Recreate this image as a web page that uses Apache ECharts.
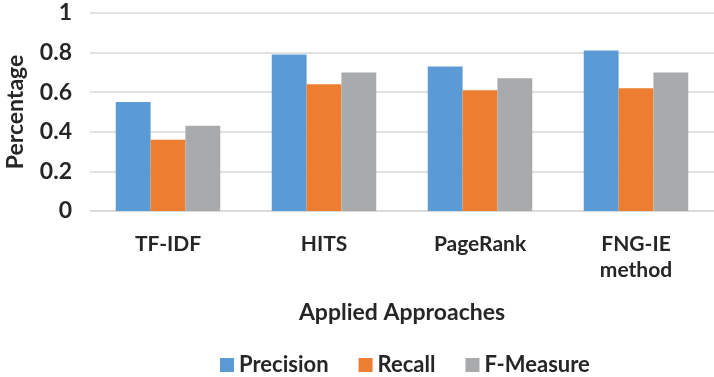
<!DOCTYPE html>
<html>
<head>
<meta charset="utf-8">
<script src="https://cdn.jsdelivr.net/npm/echarts@6/dist/echarts.min.js"></script>
<style>
  html, body { margin: 0; padding: 0; background: #fff; }
  #chart { width: 714px; height: 377px; }
</style>
</head>
<body>
<div id="chart"></div>
<script>
// data
const approaches = ['TF-IDF', 'HITS', 'PageRank', 'FNG-IE\nmethod']
const precision = [0.55, 0.79, 0.73, 0.81]
const recall = [0.36, 0.64, 0.61, 0.62]
const fMeasure = [0.43, 0.70, 0.67, 0.70]
const yTicks = [0, 0.2, 0.4, 0.6, 0.8, 1]

const font = 'Lato, "Open Sans", sans-serif'
const textColor = '#262626'

const chart = echarts.init(document.getElementById('chart'))

const option = {
  animation: false,
  textStyle: { fontFamily: font },
  grid: { left: 90, right: 0, top: 13, bottom: 166, outerBoundsMode: 'none', containLabel: false },
  legend: {
    bottom: -4,
    left: 215,
    itemWidth: 14,
    itemHeight: 14,
    itemGap: 30,
    icon: 'rect',
    textStyle: { fontFamily: font, fontWeight: 'bold', fontSize: 22, color: textColor },
    data: ['Precision', 'Recall', 'F-Measure']
  },
  xAxis: {
    type: 'category',
    data: approaches,
    name: 'Applied Approaches',
    nameLocation: 'middle',
    nameGap: 90,
    nameTextStyle: { fontFamily: font, fontWeight: 'bold', fontSize: 23, color: textColor },
    axisLine: { lineStyle: { color: '#d9d9d9', width: 1.5 } },
    axisTick: { show: false },
    axisLabel: {
      margin: 20,
      fontFamily: font, fontWeight: 'bold', fontSize: 21, color: textColor,
      lineHeight: 26
    }
  },
  yAxis: {
    type: 'value',
    min: yTicks[0],
    max: yTicks[yTicks.length - 1],
    interval: 0.2,
    name: 'Percentage',
    nameLocation: 'middle',
    nameGap: 63,
    nameTextStyle: { fontFamily: font, fontWeight: 'bold', fontSize: 23, color: textColor },
    axisLine: { show: false },
    axisTick: { show: false },
    axisLabel: {
      margin: 18,
      fontFamily: font, fontWeight: 'bold', fontSize: 23, color: textColor,
      formatter: v => String(Math.round(v * 10) / 10)
    },
    splitLine: { lineStyle: { color: '#d9d9d9', width: 1.5 } }
  },
  series: [
    { name: 'Precision', type: 'bar', data: precision, itemStyle: { color: '#5b9bd5' }, barGap: '0%', barCategoryGap: '33%' },
    { name: 'Recall', type: 'bar', data: recall, itemStyle: { color: '#ed7d31' } },
    { name: 'F-Measure', type: 'bar', data: fMeasure, itemStyle: { color: '#a9aaac' } }
  ]
}

chart.setOption(option)
</script>
</body>
</html>
